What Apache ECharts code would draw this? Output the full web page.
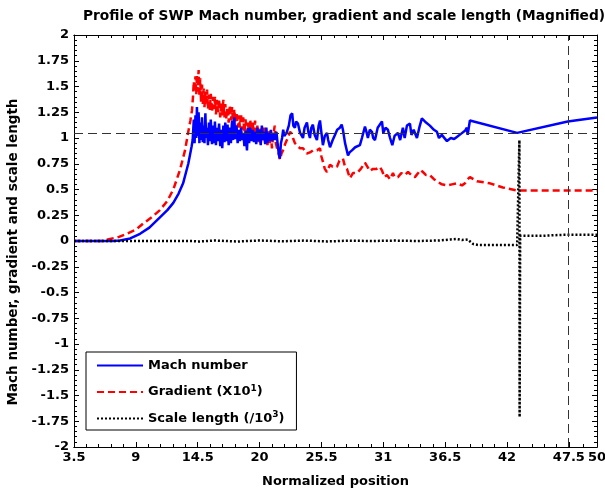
<!DOCTYPE html>
<html><head><meta charset="utf-8">
<script src="https://cdn.jsdelivr.net/npm/echarts@6/dist/echarts.min.js"></script>
<style>html,body{margin:0;padding:0;background:#fff}#c{width:605px;height:490px}</style>
</head><body><div id="c"></div>
<script>
const titleText = 'Profile of SWP Mach number, gradient and scale length (Magnified)';
const xName = 'Normalized position';
const yName = 'Mach number, gradient and scale length';
const xTicks = [3.5, 9, 14.5, 20, 25.5, 31, 36.5, 42, 47.5, 50];
const yRange = [-2, 2];
const yStep = 0.25;
const refLevel = 1.05;
const refPos = 47.4;
const seriesNames = ['Mach number', 'Gradient (X10^1)', 'Scale length (/10^3)'];

const machData = [[3.5,0],[5,0],[7,0],[7.6,0.005],[8.5,0.025],[9.37,0.07],[10.2,0.13],[11.14,0.23],[11.8,0.3],[12.33,0.37],[12.8,0.46],[13.2,0.56],[13.66,0.75],[13.96,0.92],[14.05,0.98],[14.15,1.18],[14.22,0.95],[14.3,1.22],[14.37,1.0],[14.43,1.3],[14.5,1.02],[14.58,1.25],[14.65,0.95],[14.72,1.15],[14.8,0.98],[14.88,1.2],[14.95,0.96],[15.03,1.12],[15.1,0.95],[15.18,1.24],[15.25,1.0],[15.33,1.1],[15.41,0.93],[15.5,1.15],[15.58,0.97],[15.66,1.18],[15.77,0.94],[15.85,1.12],[15.95,0.95],[16.03,1.16],[16.12,0.93],[16.2,1.1],[16.3,0.97],[16.4,1.14],[16.5,0.92],[16.6,1.08],[16.68,0.9],[16.78,1.12],[16.88,0.96],[16.95,1.15],[17.05,0.97],[17.15,1.13],[17.25,0.93],[17.35,1.1],[17.45,0.95],[17.55,1.17],[17.65,0.98],[17.75,1.2],[17.85,0.99],[17.95,1.12],[18.05,0.95],[18.15,1.08],[18.25,0.97],[18.35,1.1],[18.45,0.98],[18.55,1.05],[18.65,0.92],[18.75,1.07],[18.88,0.88],[18.97,1.1],[19.07,0.95],[19.17,1.1],[19.3,0.97],[19.4,1.08],[19.5,0.96],[19.6,1.06],[19.7,0.94],[19.8,1.1],[19.9,0.97],[20.0,1.08],[20.1,0.93],[20.2,1.12],[20.3,0.98],[20.4,1.06],[20.5,0.94],[20.6,1.1],[20.7,0.95],[20.8,1.05],[20.9,0.97],[21.0,1.08],[21.1,0.97],[21.2,1.05],[21.35,0.98],[21.5,1.06],[21.6,0.95],[21.7,0.85],[21.8,0.8],[21.9,0.95],[22.0,1.0],[22.1,1.08],[22.2,1.02],[22.4,1.05],[22.6,1.12],[22.75,1.22],[22.9,1.24],[23.0,1.12],[23.14,1.1],[23.25,1.16],[23.41,1.14],[23.6,1.05],[23.86,1.0],[24.0,1.1],[24.21,1.15],[24.35,1.05],[24.48,1.0],[24.6,1.1],[24.74,1.13],[24.9,1.03],[25.1,0.98],[25.25,1.12],[25.37,1.17],[25.5,1.05],[25.63,0.93],[25.8,1.02],[25.99,1.05],[26.1,0.98],[26.26,0.91],[26.5,0.98],[26.7,1.03],[26.9,1.08],[27.14,1.1],[27.3,1.13],[27.41,1.08],[27.6,0.95],[27.86,0.83],[28.0,0.86],[28.21,0.88],[28.5,0.91],[28.92,0.93],[29.1,1.0],[29.37,1.11],[29.5,1.06],[29.63,1.0],[29.8,1.08],[29.99,1.06],[30.1,1.0],[30.26,0.98],[30.5,1.1],[30.88,1.16],[31.0,1.05],[31.2,1.1],[31.41,1.08],[31.6,1.0],[31.8,0.93],[32.0,1.02],[32.3,1.05],[32.5,0.98],[32.74,1.1],[32.9,1.0],[33.1,1.12],[33.37,1.14],[33.5,1.03],[33.7,1.08],[33.99,1.0],[34.2,1.1],[34.43,1.19],[34.8,1.15],[35.14,1.12],[35.5,1.08],[35.77,1.06],[35.95,1.0],[36.2,1.03],[36.66,0.97],[37.0,1.0],[37.3,0.99],[37.54,1.01],[37.9,1.04],[38.26,1.07],[38.43,1.1],[38.5,1.03],[38.7,1.17],[42.9,1.05],[47.4,1.16],[50,1.2]];

const gradData = [[3.5,0],[6,0],[6.7,0.02],[7.5,0.04],[8.2,0.07],[9,0.11],[9.66,0.17],[10.4,0.23],[11.14,0.3],[11.8,0.39],[12.33,0.5],[12.92,0.69],[13.37,0.88],[13.66,1.06],[13.85,1.17],[13.99,1.27],[14.08,1.4],[14.15,1.55],[14.22,1.45],[14.3,1.6],[14.37,1.42],[14.43,1.62],[14.5,1.45],[14.58,1.66],[14.65,1.4],[14.72,1.58],[14.8,1.35],[14.88,1.52],[14.95,1.33],[15.03,1.48],[15.1,1.3],[15.18,1.45],[15.25,1.32],[15.33,1.47],[15.41,1.28],[15.5,1.42],[15.58,1.27],[15.66,1.43],[15.77,1.25],[15.85,1.4],[15.95,1.28],[16.03,1.4],[16.12,1.23],[16.2,1.37],[16.3,1.25],[16.4,1.38],[16.5,1.2],[16.6,1.35],[16.68,1.22],[16.78,1.37],[16.88,1.2],[16.95,1.33],[17.05,1.18],[17.15,1.3],[17.25,1.15],[17.35,1.32],[17.45,1.17],[17.55,1.3],[17.65,1.12],[17.75,1.28],[17.85,1.15],[17.95,1.25],[18.05,1.1],[18.15,1.22],[18.25,1.1],[18.35,1.24],[18.45,1.08],[18.55,1.2],[18.65,1.05],[18.75,1.18],[18.88,1.0],[18.97,1.15],[19.07,1.02],[19.17,1.18],[19.3,1.0],[19.4,1.15],[19.5,0.98],[19.6,1.17],[19.7,1.0],[19.8,1.12],[19.9,0.96],[20.0,1.1],[20.1,0.95],[20.2,1.08],[20.3,0.98],[20.4,1.12],[20.5,0.95],[20.6,1.05],[20.7,0.93],[20.8,1.08],[20.9,0.95],[21.0,1.05],[21.1,0.9],[21.2,1.02],[21.35,1.12],[21.45,0.95],[21.55,0.9],[21.7,0.85],[21.81,0.79],[21.95,0.85],[22.08,0.88],[22.3,0.95],[22.5,1.0],[22.7,1.06],[22.88,1.04],[22.97,1.0],[23.14,0.95],[23.32,0.93],[23.6,0.9],[23.86,0.9],[24.2,0.85],[24.48,0.86],[24.74,0.88],[25.1,0.88],[25.37,0.9],[25.5,0.82],[25.63,0.77],[25.8,0.7],[25.99,0.67],[26.26,0.74],[26.5,0.72],[26.88,0.72],[27.1,0.78],[27.41,0.8],[27.6,0.72],[27.77,0.7],[28.03,0.61],[28.3,0.66],[28.66,0.66],[29.0,0.7],[29.37,0.76],[29.54,0.73],[29.8,0.68],[30.08,0.7],[30.4,0.7],[30.7,0.72],[30.9,0.68],[31.1,0.62],[31.32,0.64],[31.6,0.6],[31.86,0.66],[32.0,0.62],[32.3,0.62],[32.6,0.66],[32.9,0.64],[33.2,0.67],[33.5,0.64],[33.81,0.62],[34.1,0.66],[34.3,0.69],[34.52,0.67],[34.8,0.64],[35.14,0.64],[35.5,0.6],[35.77,0.58],[36.2,0.55],[36.66,0.54],[37.1,0.55],[37.54,0.56],[38.0,0.54],[38.26,0.56],[38.5,0.6],[38.7,0.62],[39.32,0.58],[40.48,0.56],[41.63,0.52],[42.88,0.49],[50,0.49]];

const scaleData = [[3.5,0],[14.0,0],[14.5,-0.005],[16,0.005],[18,-0.005],[20,0.005],[22,-0.003],[24,0.004],[26,-0.004],[28,0.003],[30,0],[32,0.004],[34,0],[36,0.005],[37,0.015],[37.5,0.02],[38,0.01],[38.5,0.015],[39.0,-0.03],[39.5,-0.04],[42.9,-0.04],[43.1,0.98],[43.12,-1.71],[43.17,0.05],[45,0.05],[47,0.06],[50,0.06]];

const FONT = '"DejaVu Sans", sans-serif';
const FS = 13;

// minor tick positions between labelled ticks (5 subdivisions per step)
const minorX = [];
for (let i = 0; i < xTicks.length - 1; i++) {
  const a = xTicks[i], b = xTicks[i + 1];
  const n = Math.max(1, Math.round((b - a) / 1.1));
  for (let k = 1; k < n; k++) minorX.push(a + (b - a) * k / n);
}
const lastTick = xTicks[xTicks.length - 1];
const mainLabels = xTicks.slice(0, -1);

function xAxisCfg(position, vals, len, labelVals, withName) {
  return {
    type: 'value', position: position, min: xTicks[0], max: lastTick,
    gridIndex: 0,
    axisLine: { show: true, onZero: false, lineStyle: { color: '#000', width: 1 } },
    axisTick: { show: true, inside: true, length: len, customValues: vals, lineStyle: { color: '#000' } },
    axisLabel: labelVals ? { show: true, customValues: labelVals, color: '#000', fontFamily: FONT, fontWeight: 'bold', fontSize: FS, margin: 4,
      formatter: v => String(v) } : { show: false },
    splitLine: { show: false },
    name: withName ? xName : '', nameLocation: 'middle', nameGap: 28,
    nameTextStyle: { color: '#000', fontFamily: FONT, fontWeight: 'bold', fontSize: FS }
  };
}
function yAxisCfg(position, labels) {
  return {
    type: 'value', position: position, min: yRange[0], max: yRange[1], interval: yStep,
    axisLine: { show: true, onZero: false, lineStyle: { color: '#000', width: 1 } },
    axisTick: { show: true, inside: true, length: 5, lineStyle: { color: '#000' } },
    minorTick: { show: true, splitNumber: 5, length: 3, lineStyle: { color: '#000' } },
    axisLabel: labels ? { show: true, color: '#000', fontFamily: FONT, fontWeight: 'bold', fontSize: FS, margin: 5 } : { show: false },
    splitLine: { show: false }, minorSplitLine: { show: false },
    name: labels ? yName : '', nameLocation: 'middle', nameGap: 46, nameRotate: 90,
    nameTextStyle: { color: '#000', fontFamily: FONT, fontWeight: 'bold', fontSize: 13.5, padding: [0, 22, 0, 0] }
  };
}

const chart = echarts.init(document.getElementById('c'), null, { renderer: 'canvas' });
chart.setOption({
  animation: false,
  backgroundColor: '#fff',
  title: { text: titleText, left: 339, top: 4, textAlign: 'center',
    textStyle: { color: '#000', fontFamily: FONT, fontWeight: 'bold', fontSize: 13.75 } },
  grid: { left: 74, right: 8, top: 35, bottom: 43, containLabel: false, outerBoundsMode: 'none' },
  xAxis: [
    xAxisCfg('bottom', xTicks, 5, mainLabels, true),
    xAxisCfg('bottom', minorX, 3, [lastTick], false),
    xAxisCfg('top', xTicks, 5, null, false),
    xAxisCfg('top', minorX, 3, null, false)
  ],
  yAxis: [yAxisCfg('left', true), yAxisCfg('right', false)],
  legend: {
    orient: 'vertical', left: 86, top: 352, itemWidth: 46, itemHeight: 14, itemGap: 12,
    padding: [7, 12, 5, 10], backgroundColor: '#fff', borderColor: '#000', borderWidth: 1, borderRadius: 0,
    data: seriesNames,
    itemStyle: { opacity: 0 },
    formatter: function (name) {
      const m = name.match(/^(.*)10\^(\d)\)$/);
      if (m) return '{t|' + m[1] + '10}{s|' + m[2] + '}{t|)}';
      return '{t|' + name + '}';
    },
    textStyle: { color: '#000', fontFamily: FONT, fontWeight: 'bold', fontSize: FS,
      rich: {
        t: { fontFamily: FONT, fontWeight: 'bold', fontSize: FS, lineHeight: 16, color: '#000' },
        s: { fontFamily: FONT, fontWeight: 'bold', fontSize: 9, lineHeight: 16, verticalAlign: 'top', color: '#000' }
      } }
  },
  series: [
    { name: seriesNames[0], type: 'line', data: machData, symbol: 'none', xAxisIndex: 0, yAxisIndex: 0,
      lineStyle: { color: '#0000ff', width: 2.5 }, itemStyle: { color: '#0000ff' }, z: 3,
      markLine: { silent: true, symbol: 'none', label: { show: false },
        lineStyle: { color: '#333', width: 1, type: [9, 5] },
        data: [{ yAxis: refLevel }, { xAxis: refPos }] } },
    { name: seriesNames[1], type: 'line', data: gradData, symbol: 'none', xAxisIndex: 0, yAxisIndex: 0,
      lineStyle: { color: '#ff0000', width: 2.5, type: [7, 4] }, itemStyle: { color: '#ff0000' }, z: 2 },
    { name: seriesNames[2], type: 'line', data: scaleData, symbol: 'none', xAxisIndex: 0, yAxisIndex: 0,
      lineStyle: { color: '#000', width: 2.5, type: [2, 2] }, itemStyle: { color: '#000' }, z: 4 }
  ]
});
</script></body></html>
